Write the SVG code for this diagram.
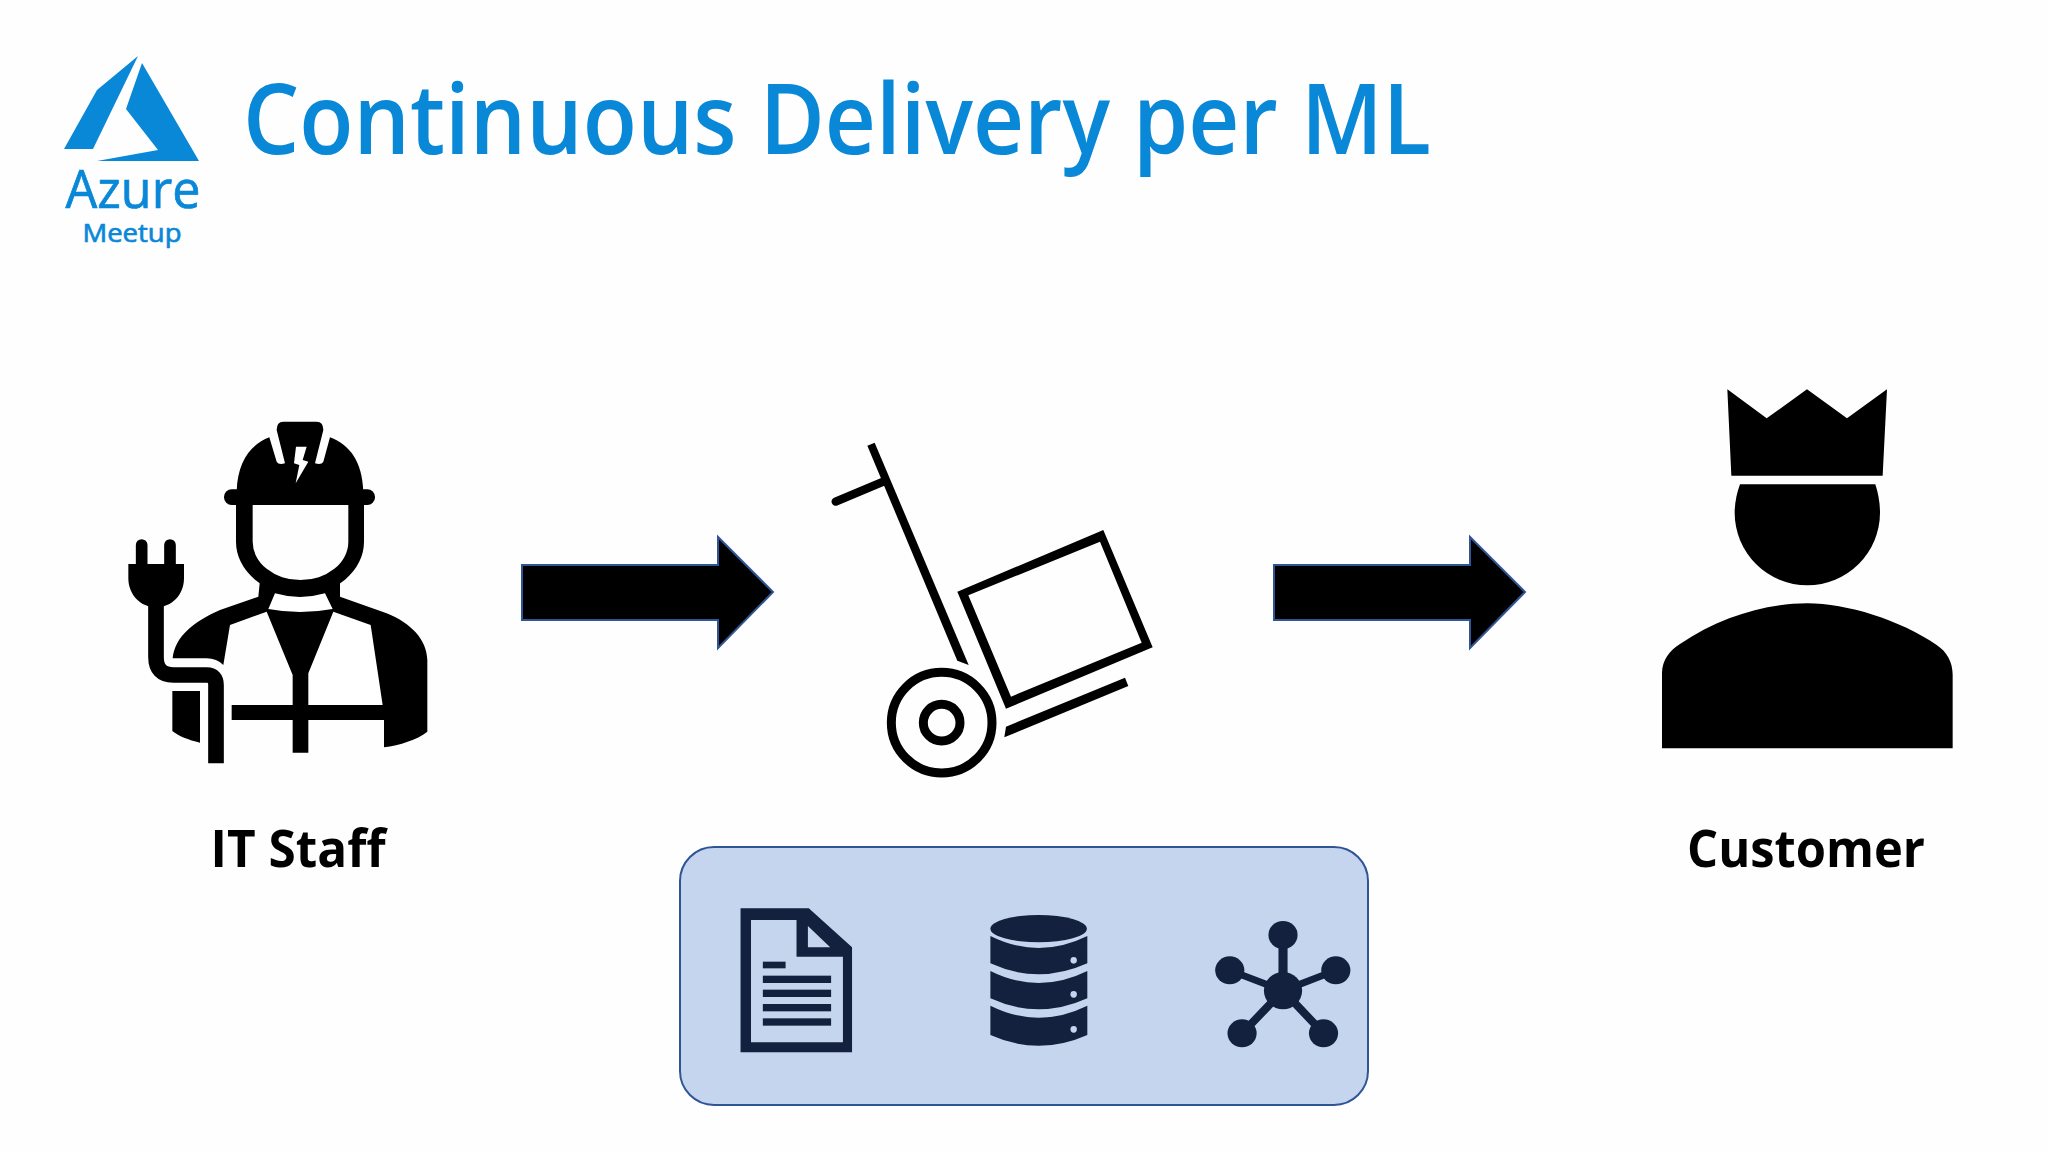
<svg xmlns="http://www.w3.org/2000/svg" width="2048" height="1152" viewBox="0 0 2048 1152">
<style>
text{font-family:"Open Sans","Noto Sans","Liberation Sans",sans-serif}
.blue{fill:#0a88d8}
.soft{stroke:#0a88d8;stroke-width:.7}
.lbl{font-weight:700;font-size:52px;fill:#000}
.dark{fill:#13213f}
.arrow{fill:#000;stroke:#2f5597;stroke-width:2}
</style>
<rect width="2048" height="1152" fill="#fefefe"/>
<g id="logo">
<path class="blue" d="M138 56L97 90L64 149H93ZM142 63L126 109L158 150L97 161H199Z"/>
<text class="blue soft" x="133" y="208" font-size="53" text-anchor="middle" textLength="135" lengthAdjust="spacingAndGlyphs">Azure</text>
<text class="blue soft" x="132" y="242" font-size="26" text-anchor="middle" textLength="99" lengthAdjust="spacingAndGlyphs">Meetup</text>
</g>
<text id="title" class="blue" x="243" y="154" font-size="98" font-weight="600" textLength="1188" lengthAdjust="spacingAndGlyphs">Continuous Delivery per ML</text>
<g id="it-staff">
<g transform="translate(110 410) scale(.33333)">
<path d="M380 245C383 155 420 105 478 82L500 155Q505 165 525 160L500 60Q500 35 520 35H620Q640 35 640 60L615 160Q635 165 640 155L660 82C720 105 757 155 760 245Z"/>
<path fill="#fff" d="M558 110H590L578 150L595 155L557 220L568 165L552 160Z"/>
<rect x="342" y="238" width="453" height="47" rx="23"/>
<path d="M378 285V395A192 160 0 0 0 762 395V285H715V395A143 115 0 0 1 428 395V285Z"/>
<path d="M188 745C195 680 250 635 330 600L445 560L450 510H690V560L830 610C905 640 950 690 952 750V965C920 990 870 1005 822 1012V930H595V1028H548V930H365V885H548V795L470 605L360 645L340 765Q320 745 290 745Z"/>
<path fill="#fff" d="M495 550Q570 572 645 550L668 597Q570 615 475 597ZM670 605L782 645L818 885H595V790Z"/>
<path d="M187 843H270V998C235 990 205 978 187 963Z"/>
<path d="M138 585V740Q138 795 190 795H290Q318 795 318 825V1060" fill="none" stroke="#000" stroke-width="47"/>
<path d="M55 462H222V505C222 555 185 592 138 592C92 592 55 555 55 505Z"/>
<path d="M95 470V405M180 470V405" stroke="#000" stroke-width="35" stroke-linecap="round"/>
</g>
<text class="lbl" x="298" y="867" text-anchor="middle" textLength="175" lengthAdjust="spacingAndGlyphs">IT Staff</text>
</g>
<g id="cart" transform="translate(810 430) scale(.33333)">
<path d="M172 47L194 38L476 705L442 692Z"/>
<path d="M77 215L220 155" stroke="#000" stroke-width="25" stroke-linecap="round"/>
<path fill-rule="evenodd" d="M442 485L880 300L1028 652L588 836ZM475 496L603 800L995 638L870 335Z"/>
<path d="M588 890L945 743L955 768L583 922Z"/>
<circle cx="395" cy="878" r="151" fill="none" stroke="#000" stroke-width="27"/>
<circle cx="395" cy="878" r="55" fill="none" stroke="#000" stroke-width="27"/>
</g>
<g id="customer">
<g transform="translate(1640 370) scale(.33333)">
<path d="M262 58L380 145L501 58L621 145L741 58L728 317H274Z"/>
<path d="M300 343H706C715 370 720 400 720 428A218 218 0 1 1 284 428C284 400 290 370 300 343Z"/>
<path d="M66 1135V910C66 870 90 840 120 822C240 740 380 700 502 700C620 700 780 750 890 825C920 845 938 875 938 915V1135Z"/>
</g>
<text class="lbl" x="1806" y="867" text-anchor="middle" textLength="238" lengthAdjust="spacingAndGlyphs">Customer</text>
</g>
<g id="artifacts">
<rect x="680" y="847" width="688" height="258" rx="34" fill="#c5d5ee" stroke="#2f5597" stroke-width="2"/>
<g transform="translate(670 840) scale(.4551 .33333)">
<g id="document" class="dark"><path fill-rule="evenodd" d="M155 205H305L400 322V637H155ZM178 240V607H380V350H278V240ZM303 258V322H352Z"/>
<rect x="204" y="365" width="50" height="20"/><rect x="204" y="407" width="150" height="22"/><rect x="204" y="449" width="150" height="22"/><rect x="204" y="492" width="150" height="22"/><rect x="204" y="535" width="150" height="22"/></g>
<g id="database" transform="translate(-5 0)"><g class="dark"><ellipse cx="815" cy="266" rx="106" ry="41"/>
<path d="M709 288Q815 360 922 288V370Q815 436 709 370Z"/><path d="M709 393Q815 465 922 393V475Q815 541 709 475Z"/><path d="M709 497Q815 569 922 497V585Q815 650 709 585Z"/></g>
<g fill="#c5d5ee"><ellipse cx="892" cy="361" rx="7" ry="10"/><ellipse cx="892" cy="463" rx="7" ry="10"/><ellipse cx="892" cy="568" rx="7" ry="10"/></g></g>
<g id="network" class="dark" transform="translate(-5 0)"><path d="M1352 285V452M1235 391L1352 452L1468 391M1262 580L1352 452L1441 580" fill="none" stroke="#13213f" stroke-width="20"/>
<ellipse cx="1352" cy="452" rx="42" ry="56"/><ellipse cx="1352" cy="285" rx="32" ry="42"/><ellipse cx="1235" cy="391" rx="32" ry="42"/><ellipse cx="1468" cy="391" rx="32" ry="42"/><ellipse cx="1262" cy="580" rx="32" ry="42"/><ellipse cx="1441" cy="580" rx="32" ry="42"/></g>
</g>
</g>
<g id="connectors">
<path class="arrow" d="M522 565H718V537L773 592L718 648V620H522Z"/>
<path class="arrow" d="M1274 565H1470V537L1525 592L1470 648V620H1274Z"/>
</g>
</svg>
